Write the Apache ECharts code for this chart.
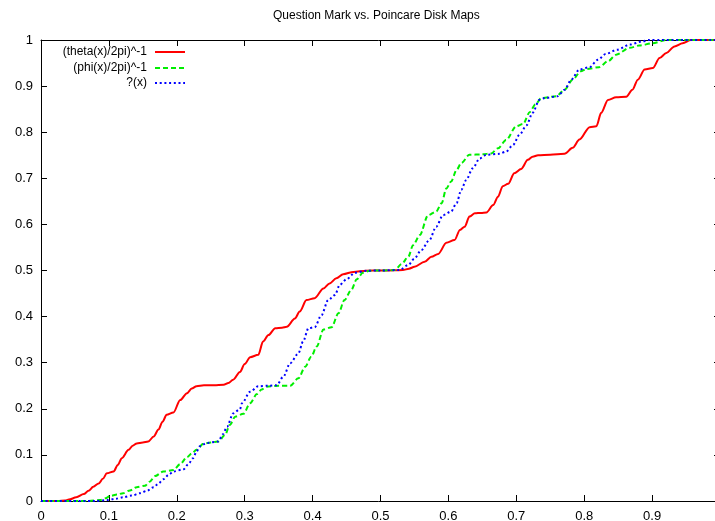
<!DOCTYPE html>
<html>
<head>
<meta charset="utf-8">
<script src="https://cdn.jsdelivr.net/npm/echarts@6/dist/echarts.min.js"></script>
<style>
html,body{margin:0;padding:0;background:#fff;}
#chart{width:715px;height:521px;}
</style>
</head>
<body>
<div id="chart"></div>
<script>
var titleText = 'Question Mark vs. Poincare Disk Maps';
var seriesNames = ['(theta(x)/2pi)^-1', '(phi(x)/2pi)^-1', '?(x)'];
var xTicks = [0, 0.1, 0.2, 0.3, 0.4, 0.5, 0.6, 0.7, 0.8, 0.9];
var yTicks = [0, 0.1, 0.2, 0.3, 0.4, 0.5, 0.6, 0.7, 0.8, 0.9, 1];

var redX = [0,0.025,0.035,0.041,0.052,0.063,0.070,0.077,0.085,0.091,0.097,0.107,0.113,0.119,0.129,0.135,0.141,0.150,0.158,0.166,0.173,0.179,0.185,0.195,0.205,0.215,0.222,0.229,0.240,0.255,0.269,0.276,0.283,0.293,0.300,0.308,0.320,0.327,0.335,0.345,0.355,0.362,0.374,0.381,0.391,0.403,0.416,0.425,0.435,0.445,0.460,0.479,0.500,0.520,0.533,0.542,0.550,0.565,0.575,0.585,0.597,0.609,0.617,0.624,0.631,0.639,0.648,0.656,0.666,0.673,0.680,0.688,0.697,0.707,0.717,0.724,0.732,0.750,0.771,0.783,0.793,0.808,0.818,0.825,0.835,0.847,0.862,0.871,0.879,0.889,0.901,0.911,0.921,0.933,0.945,0.957,1.0];
var redY = [0,0,0.001,0.003,0.008,0.015,0.022,0.031,0.038,0.048,0.060,0.064,0.078,0.093,0.111,0.120,0.125,0.127,0.129,0.140,0.155,0.172,0.187,0.192,0.219,0.234,0.244,0.249,0.251,0.251,0.252,0.256,0.263,0.280,0.297,0.312,0.317,0.346,0.360,0.375,0.376,0.378,0.396,0.411,0.436,0.440,0.461,0.472,0.483,0.492,0.497,0.4995,0.500,0.5005,0.501,0.504,0.508,0.519,0.530,0.536,0.560,0.566,0.588,0.595,0.617,0.624,0.625,0.626,0.642,0.660,0.683,0.688,0.711,0.720,0.740,0.747,0.750,0.751,0.753,0.766,0.784,0.811,0.813,0.842,0.870,0.876,0.877,0.892,0.914,0.936,0.939,0.961,0.972,0.986,0.993,1.0,1.0];

var greenX = [0,0.07,0.087,0.095,0.102,0.112,0.121,0.131,0.141,0.153,0.160,0.168,0.180,0.195,0.205,0.215,0.222,0.229,0.239,0.250,0.261,0.271,0.278,0.286,0.298,0.308,0.318,0.325,0.332,0.350,0.367,0.379,0.389,0.398,0.406,0.416,0.428,0.438,0.447,0.457,0.465,0.474,0.484,0.500,0.521,0.531,0.541,0.548,0.558,0.570,0.582,0.590,0.597,0.604,0.612,0.619,0.631,0.650,0.663,0.673,0.685,0.700,0.710,0.720,0.728,0.737,0.759,0.771,0.783,0.795,0.803,0.822,0.835,0.847,0.867,0.881,0.901,0.921,1];
var greenY = [0,0,0.002,0.006,0.011,0.014,0.017,0.023,0.030,0.033,0.042,0.054,0.064,0.067,0.080,0.095,0.103,0.111,0.124,0.127,0.129,0.143,0.165,0.183,0.189,0.212,0.232,0.242,0.248,0.250,0.250,0.266,0.291,0.313,0.335,0.372,0.377,0.407,0.436,0.458,0.481,0.495,0.4995,0.500,0.501,0.514,0.530,0.555,0.577,0.620,0.628,0.646,0.678,0.693,0.718,0.733,0.751,0.752,0.754,0.765,0.783,0.813,0.818,0.844,0.860,0.874,0.878,0.892,0.914,0.932,0.937,0.941,0.954,0.968,0.983,0.988,0.993,1.0,1];

var blueX = [0,0.08,0.097,0.110,0.121,0.134,0.146,0.156,0.166,0.173,0.180,0.188,0.195,0.210,0.217,0.224,0.229,0.234,0.244,0.261,0.268,0.274,0.283,0.293,0.296,0.308,0.320,0.335,0.347,0.357,0.367,0.379,0.386,0.394,0.403,0.413,0.423,0.433,0.440,0.450,0.462,0.479,0.500,0.528,0.541,0.550,0.560,0.572,0.582,0.592,0.604,0.612,0.619,0.626,0.636,0.646,0.656,0.675,0.685,0.695,0.705,0.715,0.724,0.734,0.742,0.761,0.771,0.781,0.793,0.808,0.820,0.832,0.849,0.867,0.886,0.894,1];
var blueY = [0,0,0.002,0.005,0.008,0.012,0.017,0.022,0.030,0.038,0.047,0.057,0.064,0.069,0.080,0.093,0.107,0.119,0.126,0.129,0.145,0.161,0.190,0.199,0.212,0.237,0.249,0.250,0.251,0.270,0.299,0.320,0.346,0.375,0.377,0.403,0.436,0.447,0.469,0.481,0.495,0.4995,0.500,0.501,0.512,0.526,0.544,0.566,0.595,0.620,0.628,0.646,0.675,0.696,0.722,0.743,0.751,0.753,0.758,0.772,0.795,0.815,0.842,0.870,0.874,0.878,0.892,0.914,0.936,0.941,0.957,0.970,0.979,0.990,0.997,1.0,1];

function pairs(xs, ys) { return xs.map(function (x, i) { return [x, ys[i]]; }); }

var FONT = '"Liberation Sans", Arial, sans-serif';
var chart = echarts.init(document.getElementById('chart'), null, {renderer: 'canvas'});

var axisCommon = {
  type: 'value', min: 0, max: 1, interval: 0.1,
  axisLine: {show: true, onZero: false, lineStyle: {color: '#000', width: 1}},
  axisTick: {show: true, inside: true, length: 6, lineStyle: {color: '#000', width: 1}},
  splitLine: {show: false}
};

function legendAt(name, top) {
  return {
    data: [name], right: 529, top: top, align: 'right', padding: 0,
    itemWidth: 30, itemHeight: 14, itemGap: 0,
    itemStyle: {opacity: 0},
    textStyle: {fontFamily: FONT, fontSize: 12, color: '#000', padding: [0, 3, 0, 0]}
  };
}

function fmt(list) {
  return function (v) {
    var r = Math.round(v * 10) / 10;
    return list.indexOf(r) >= 0 ? String(r) : '';
  };
}

var option = {
  animation: false,
  backgroundColor: '#fff',
  title: {
    text: titleText, left: 273, top: 10, padding: 0,
    textStyle: {fontFamily: FONT, fontSize: 12, fontWeight: 'normal', color: '#000'}
  },
  legend: [legendAt(seriesNames[0], 46), legendAt(seriesNames[1], 62), legendAt(seriesNames[2], 77)],
  grid: {left: 41, right: -5, top: 40, bottom: 20, containLabel: false, outerBoundsMode: 'none'},
  xAxis: [
    Object.assign({}, axisCommon, {
      position: 'bottom',
      axisLabel: {show: true, margin: 9, showMaxLabel: false, fontFamily: FONT, fontSize: 13, color: '#000', formatter: fmt(xTicks)}
    }),
    Object.assign({}, axisCommon, {position: 'top', axisLabel: {show: false}})
  ],
  yAxis: [
    Object.assign({}, axisCommon, {
      position: 'left',
      axisLabel: {show: true, margin: 8, fontFamily: FONT, fontSize: 13, color: '#000', formatter: fmt(yTicks)}
    }),
    Object.assign({}, axisCommon, {position: 'right', axisLabel: {show: false}})
  ],
  series: [
    {name: seriesNames[0], type: 'line', data: pairs(redX, redY), showSymbol: false, symbol: 'none',
      smooth: 0.3, smoothMonotone: 'x', color: '#ff0000', lineStyle: {color: '#ff0000', width: 2, type: 'solid'}},
    {name: seriesNames[1], type: 'line', data: pairs(greenX, greenY), showSymbol: false, symbol: 'none',
      smooth: 0.3, smoothMonotone: 'x', color: '#00ee00', lineStyle: {color: '#00ee00', width: 2, type: [5, 3]}},
    {name: seriesNames[2], type: 'line', data: pairs(blueX, blueY), showSymbol: false, symbol: 'none',
      smooth: 0.3, smoothMonotone: 'x', color: '#0000ff', lineStyle: {color: '#0000ff', width: 2, type: [2, 2.7]}}
  ]
};
chart.setOption(option);
</script>
</body>
</html>
